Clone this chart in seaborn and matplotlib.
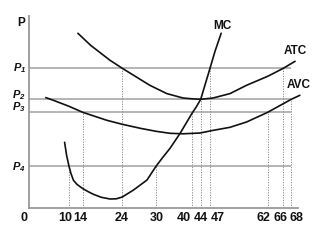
import numpy as np
import pandas as pd
import matplotlib
matplotlib.use("Agg")
import matplotlib.pyplot as plt
import seaborn as sns

# ---------------- data ----------------
mc_q = [8.9, 9.4, 10, 10.55, 11.3, 12.3, 13.9, 15.2, 16.7, 18.7, 20.9, 22.5, 24, 26, 28.4,
        30, 31.9, 33.9, 36.7, 40, 42, 44, 47, 48.3, 49.9]
mc_p = [66, 53, 42, 35, 28, 24, 20, 17, 14, 11, 9.3, 9.5, 11.3, 18.3, 28.3,
        42, 51, 60, 75, 95, 101.5, 109, 140, 157, 175]

atc_q = [12.6, 16, 20.9, 24, 28.9, 33, 37.5, 40, 44, 47.8, 52.2, 56.5, 62, 66, 69.1]
atc_p = [175, 163, 148, 140, 123, 114.7, 110.3, 109.5, 109, 110.3, 114.7, 123, 132, 140, 147]

avc_q = [4.2, 6.1, 10, 14, 20.1, 24, 27.2, 30, 33.9, 37.5, 43.7, 47.9, 52.2, 56.5, 62, 68, 70.5]
avc_p = [110.7, 108, 102, 96, 88, 84, 80, 77, 75, 74.5, 75.3, 78, 81, 86.3, 96, 109, 113]

level_names = ["P1", "P2", "P3", "P4"]
level_values = [140, 109, 96, 42]
level_labels = [r"$P_1$", r"$P_2$", r"$P_3$", r"$P_4$"]

drop_q = [10, 14, 24, 30, 40, 44, 47, 62, 66, 68]
drop_level = ["P4", "P3", "P1", "P4", "P3", "P2", "P1", "P3", "P1", "P2"]

x_ticks = [0, 10, 14, 24, 30, 40, 44, 47, 62, 66, 68]
x_tick_labels = ["0", "10", "14", "24", "30", "40", "44", "47", "62", "66", "68"]

# ---------------- layout / style ----------------
label_dx = [-5, -3.3, -2.7, -0.3, 0.3, -8.3, 0, 7.3, -4.7, -3, 5]   # pixel shifts of tick labels
level_label_dy = [-3, 1.5, 2, -4]

# axis position mapping (quantity -> horizontal pixel), as drawn in the original
KQ = [-100, 0, 10, 14, 24, 30, 40, 44, 47, 62, 66, 68, 72, 200]
KPX = [29 - 400, 29, 69, 82.7, 122.3, 156, 192, 200.7, 210, 267.7, 283.3, 291.3, 305, 305 + 512]

sns.set_style("white")
plt.rcParams["font.family"] = ["Liberation Sans", "DejaVu Sans"]
plt.rcParams["font.weight"] = "bold"
plt.rcParams["mathtext.fontset"] = "custom"
plt.rcParams["mathtext.it"] = "Liberation Sans:italic:bold"
plt.rcParams["mathtext.rm"] = "Liberation Sans:italic:bold"
plt.rcParams["mathtext.bf"] = "Liberation Sans:italic:bold"

fig = plt.figure(figsize=(3.29, 2.5), dpi=100)
ax = fig.add_axes([29 / 329, (250 - 208.3) / 250, 276 / 329, 192.3 / 250])

def fwd(q):
    return np.interp(q, KQ, KPX)

def inv(px):
    return np.interp(px, KPX, KQ)

ax.set_xscale("function", functions=(fwd, inv))

df = pd.concat([
    pd.DataFrame({"Q": mc_q, "P": mc_p, "curve": "MC"}),
    pd.DataFrame({"Q": atc_q, "P": atc_p, "curve": "ATC"}),
    pd.DataFrame({"Q": avc_q, "P": avc_p, "curve": "AVC"}),
])

lev = dict(zip(level_names, level_values))

# horizontal price lines
ax.hlines(level_values, 0, 68, colors="#a8a8a8", linewidth=1.2, zorder=1)
# dotted drop lines
ax.vlines(drop_q, 0, [lev[n] for n in drop_level], colors="#8a8a8a",
          linewidth=0.7, linestyles=(0, (1.2, 1.4)), zorder=1)

sns.lineplot(data=df, x="Q", y="P", hue="curve",
             palette={"MC": "#111111", "ATC": "#111111", "AVC": "#111111"},
             sort=False, estimator=None, legend=False, linewidth=1.2, ax=ax, zorder=3)

ax.set_xlim(0, 72)
ax.set_ylim(0, 192.3)
ax.set_xticks([])
ax.set_yticks([])
ax.set_xlabel("")
ax.set_ylabel("")
for s in ["top", "right"]:
    ax.spines[s].set_visible(False)
for s in ["left", "bottom"]:
    ax.spines[s].set_color("#9a9a9a")
    ax.spines[s].set_linewidth(1.3)
ax.spines["bottom"].set_bounds(0, 70)

# tick labels
for q, lab, dx in zip(x_ticks, x_tick_labels, label_dx):
    ax.annotate(lab, xy=(q, 0), xytext=(dx, -4), textcoords="offset pixels",
                ha="center", va="top", fontsize=9, fontweight="bold",
                color="#111111", annotation_clip=False)

# price labels
for v, lab, dy in zip(level_values, level_labels, level_label_dy):
    ax.annotate(lab, xy=(0, v), xytext=(-3, dy), textcoords="offset pixels",
                ha="right", va="baseline", fontsize=8, color="#111111",
                annotation_clip=False)
ax.annotate("P", xy=(0, 192.3), xytext=(-8, -10), textcoords="offset pixels",
            ha="center", va="baseline", fontsize=8.5, fontweight="bold",
            color="#111111", annotation_clip=False)

# curve labels
for qs, ps, name, off in [(mc_q, mc_p, "MC", (1.5, 7)),
                          (atc_q, atc_p, "ATC", (0, 10)),
                          (avc_q, avc_p, "AVC", (-1, 10))]:
    ax.annotate(name, xy=(qs[-1], ps[-1]), xytext=off, textcoords="offset pixels",
                ha="center", va="center", fontsize=8.5, fontweight="bold",
                color="#111111", annotation_clip=False)

fig.savefig("out.png", dpi=100)
